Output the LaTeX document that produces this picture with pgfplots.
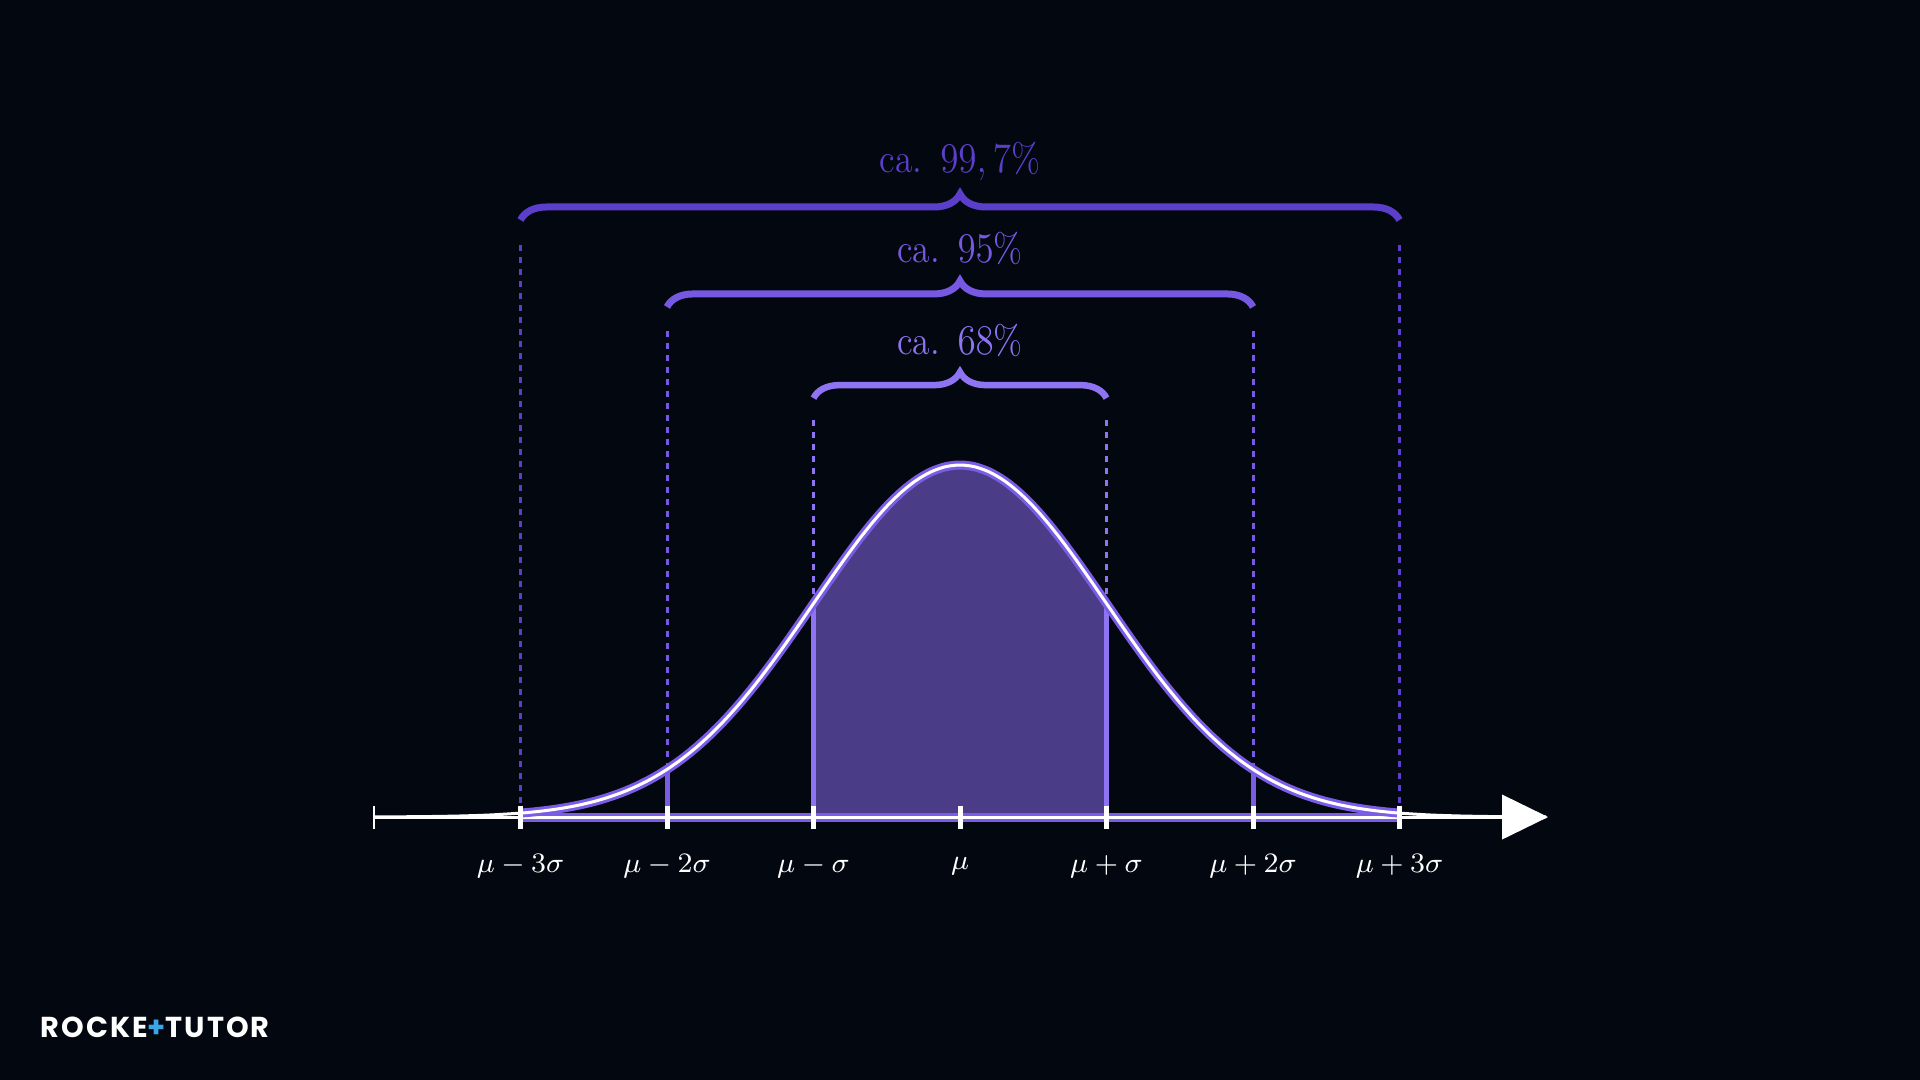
\documentclass[border=0pt]{standalone}
\usepackage{pgfplots}
\pgfplotsset{compat=1.18}
\usepackage{pgfplotstable}
\usepackage{graphicx}
\usepackage{fontspec}
\usetikzlibrary{decorations.pathreplacing}
\newfontfamily\logofont[LetterSpace=7]{Poppins}
\definecolor{bg}{HTML}{030810}
\definecolor{shade}{HTML}{4B3C87}
\definecolor{glow}{HTML}{7B5CE6}
\definecolor{cA}{HTML}{5B3FCB}
\definecolor{cB}{HTML}{7658E2}
\definecolor{cC}{HTML}{8E74F3}
\definecolor{logoblue}{HTML}{3AA6E6}

\pgfplotstableread{
x y
-4.0 0.00034
-3.8 0.00073
-3.6 0.00153
-3.4 0.00309
-3.2 0.00598
-3.0 0.01111
-2.9 0.01492
-2.8 0.01984
-2.7 0.02612
-2.6 0.03405
-2.5 0.04394
-2.4 0.05613
-2.3 0.07100
-2.2 0.08892
-2.1 0.11025
-2.0 0.13534
-1.9 0.16448
-1.8 0.19790
-1.7 0.23575
-1.6 0.27804
-1.5 0.32465
-1.4 0.37531
-1.3 0.42956
-1.2 0.48675
-1.1 0.54607
-1.0 0.60653
-0.9 0.66698
-0.8 0.72615
-0.7 0.78270
-0.6 0.83527
-0.5 0.88250
-0.4 0.92312
-0.3 0.95600
-0.2 0.98020
-0.1 0.99501
0.0 1.00000
0.1 0.99501
0.2 0.98020
0.3 0.95600
0.4 0.92312
0.5 0.88250
0.6 0.83527
0.7 0.78270
0.8 0.72615
0.9 0.66698
1.0 0.60653
1.1 0.54607
1.2 0.48675
1.3 0.42956
1.4 0.37531
1.5 0.32465
1.6 0.27804
1.7 0.23575
1.8 0.19790
1.9 0.16448
2.0 0.13534
2.1 0.11025
2.2 0.08892
2.3 0.07100
2.4 0.05613
2.5 0.04394
2.6 0.03405
2.7 0.02612
2.8 0.01984
2.9 0.01492
3.0 0.01111
3.2 0.00598
3.4 0.00309
3.6 0.00153
3.8 0.00073
4.0 0.00034
}\gauss

\begin{document}
\begin{tikzpicture}
\begin{axis}[
  width=19.2cm, height=10.8cm, scale only axis, hide axis,
  xmin=-6.553, xmax=6.553, ymin=-0.747, ymax=2.321,
  clip=false,
]
\fill[bg] (rel axis cs:0,0) rectangle (rel axis cs:1,1);

% shaded area
\addplot[fill=shade, draw=none, restrict x to domain=-1.001:1.001] table {\gauss} \closedcycle;

% dashed guides
\pgfplotsset{dashguide/.style={line width=0.3mm, dash pattern=on 0.6mm off 0.6mm}}
\addplot[cA, dashguide] coordinates {(-3,1.625) (-3,0.02)};
\addplot[cA, dashguide] coordinates {(3,1.625) (3,0.02)};
\addplot[cB, dashguide] coordinates {(-2,1.381) (-2,0.14)};
\addplot[cB, dashguide] coordinates {(2,1.381) (2,0.14)};
\addplot[cC, dashguide] coordinates {(-1,1.128) (-1,0.61)};
\addplot[cC, dashguide] coordinates {(1,1.128) (1,0.61)};

% solid verticals
\addplot[glow, line width=0.5mm] coordinates {(-2,0) (-2,0.13534)};
\addplot[glow, line width=0.5mm] coordinates {(2,0) (2,0.13534)};
\addplot[cC, line width=0.5mm] coordinates {(-1,0) (-1,0.60653)};
\addplot[cC, line width=0.5mm] coordinates {(1,0) (1,0.60653)};

% baseline
\addplot[glow, line width=0.9mm] coordinates {(-3,0) (3,0)};
\addplot[white, line width=0.3mm] coordinates {(-4,0) (3.72,0)};

% curve
\addplot[glow, line width=0.9mm, smooth, restrict x to domain=-3.001:3.001] table {\gauss};
\addplot[white, line width=0.3mm, smooth] table {\gauss};

% ticks
\addplot[only marks, mark=|, mark size=1.15mm, mark options={white, line width=0.5mm}] coordinates {(-3,0) (-2,0) (-1,0) (0,0) (1,0) (2,0) (3,0)};
\addplot[only marks, mark=|, mark size=1.15mm, mark options={white, line width=0.22mm}] coordinates {(-4,0)};

% arrow head
\addplot[fill=white, draw=none] coordinates {(3.70,0.064) (4.014,0) (3.70,-0.064) (3.70,0.064)};

% braces
\draw[cA, line width=0.7mm, decorate, decoration={brace, amplitude=2.6mm}] (axis cs:-3,1.696) -- (axis cs:3,1.696);
\draw[cB, line width=0.7mm, decorate, decoration={brace, amplitude=2.6mm}] (axis cs:-2,1.449) -- (axis cs:2,1.449);
\draw[cC, line width=0.65mm, decorate, decoration={brace, amplitude=2.6mm}] (axis cs:-1,1.190) -- (axis cs:1,1.190);

\node[cA, anchor=base, font=\fontsize{11.5}{13}\selectfont] at (axis cs:0,1.830) {\scalebox{0.88}[1]{ca.\hspace{0.5em}$99,7\%$}};
\node[cB, anchor=base, font=\fontsize{11.5}{13}\selectfont] at (axis cs:0,1.574) {\scalebox{0.88}[1]{ca.\hspace{0.5em}$95\%$}};
\node[cC, anchor=base, font=\fontsize{11.5}{13}\selectfont] at (axis cs:0,1.315) {\scalebox{0.88}[1]{ca.\hspace{0.5em}$68\%$}};

% tick labels
\node[white, font=\fontsize{8.2}{10}\selectfont] at (axis cs:-3,-0.14) {$\mu-3\sigma$};
\node[white, font=\fontsize{8.2}{10}\selectfont] at (axis cs:-2,-0.14) {$\mu-2\sigma$};
\node[white, font=\fontsize{8.2}{10}\selectfont] at (axis cs:-1,-0.14) {$\mu-\sigma$};
\node[white, font=\fontsize{8.2}{10}\selectfont] at (axis cs:0,-0.14) {$\mu$};
\node[white, font=\fontsize{8.2}{10}\selectfont] at (axis cs:1,-0.14) {$\mu+\sigma$};
\node[white, font=\fontsize{8.2}{10}\selectfont] at (axis cs:2,-0.14) {$\mu+2\sigma$};
\node[white, font=\fontsize{8.2}{10}\selectfont] at (axis cs:3,-0.14) {$\mu+3\sigma$};

% logo
\node[white, anchor=base west, inner sep=0pt, font=\logofont\bfseries\fontsize{8.2}{10}\selectfont] at (rel axis cs:0.0208,0.0389) {ROCKE\textcolor{logoblue}{+}TUTOR};
\end{axis}
\end{tikzpicture}
\end{document}
